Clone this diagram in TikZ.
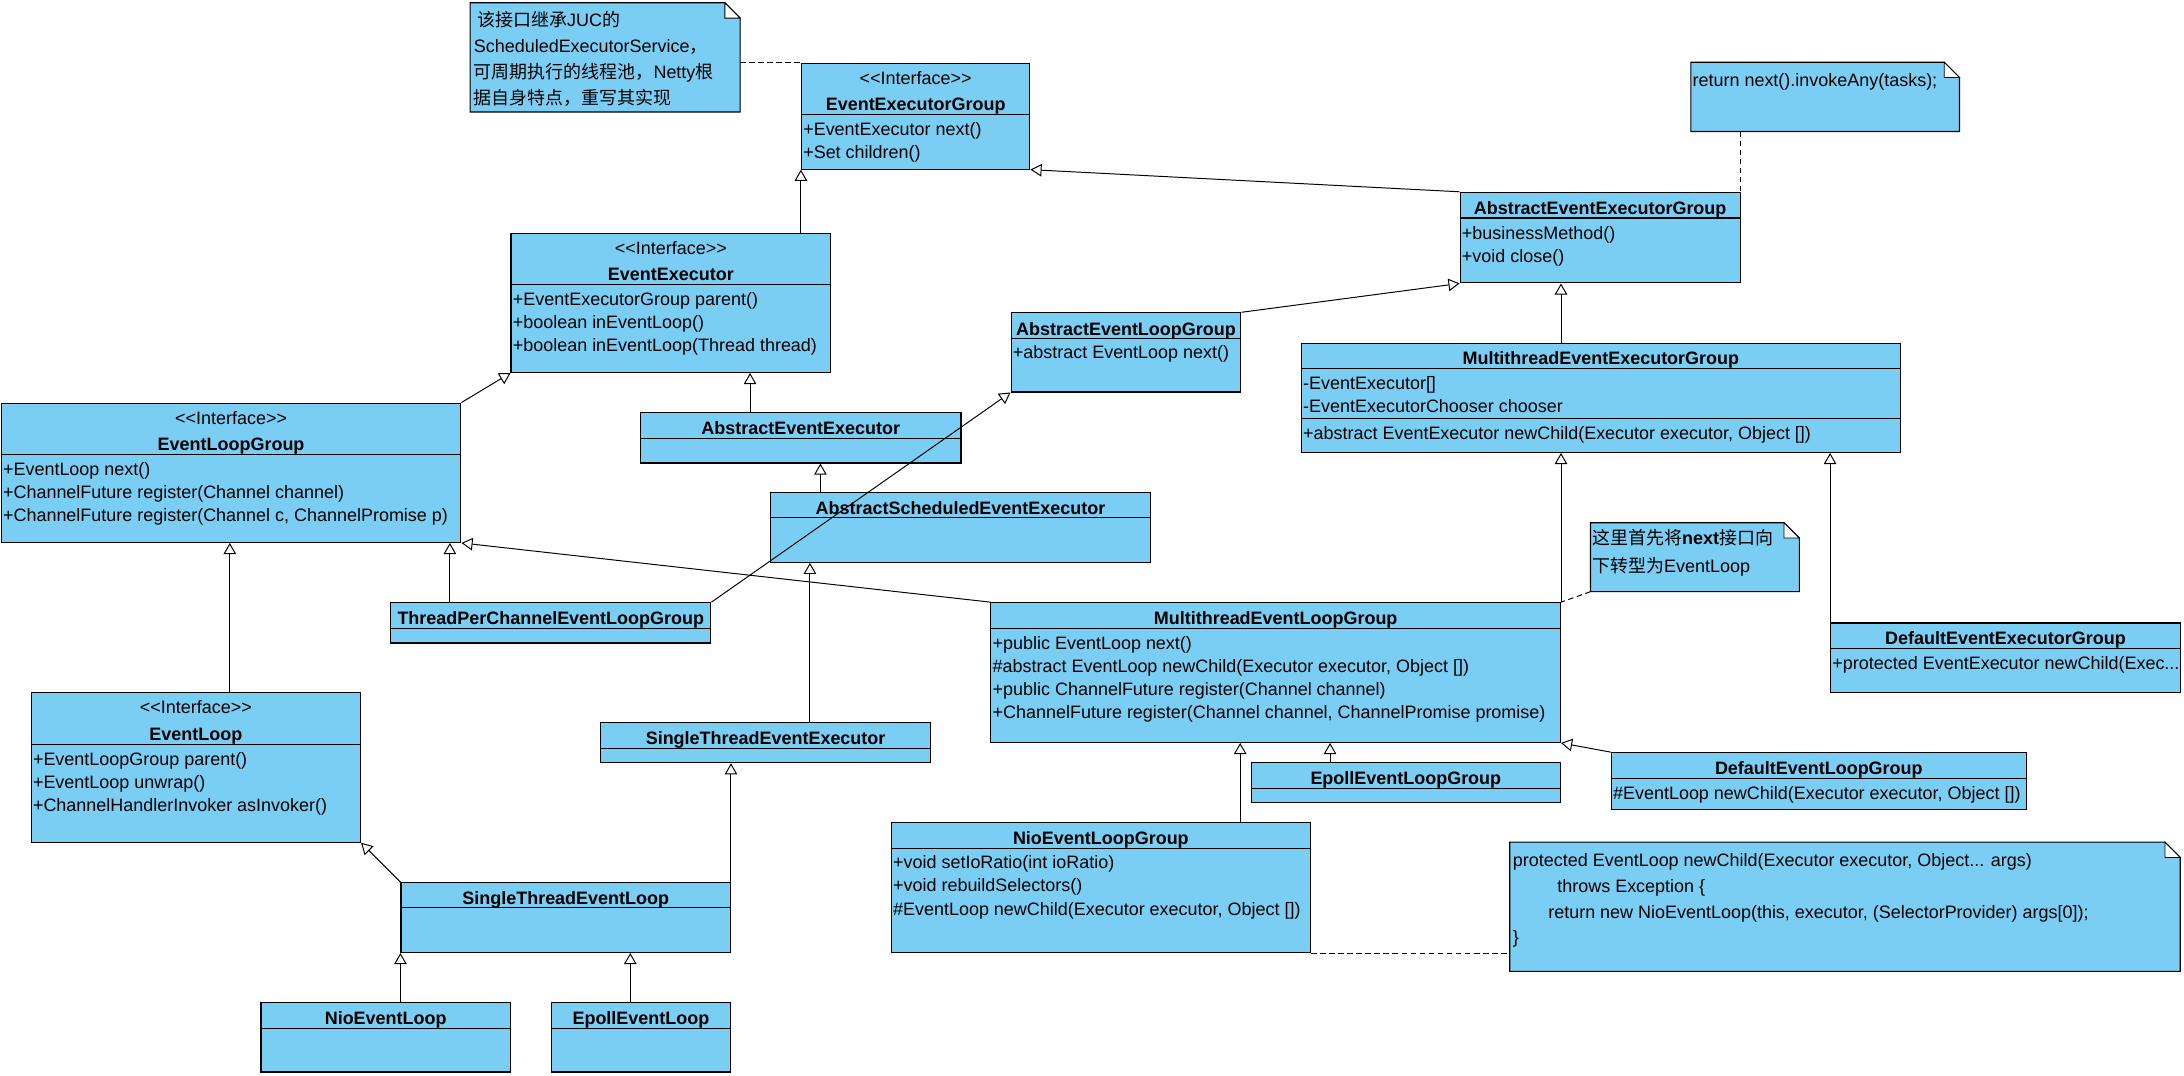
\documentclass[tikz,border=0pt]{standalone}
\usepackage{fontspec}
\setmainfont{Liberation Sans}
\newfontfamily\cjk{Noto Sans CJK SC}
\usetikzlibrary{arrows.meta}
\definecolor{umlblue}{RGB}{122,206,244}

\begin{document}
\begin{tikzpicture}[
   x=1pt,y=-1pt,
   font=\fontsize{12.9}{15.5}\selectfont,
   cls/.style={draw,line width=0.8pt,fill=umlblue,anchor=north west,inner sep=0pt},
   notebox/.style={anchor=north west,inner sep=0pt},
   notefill/.style={draw,line width=0.8pt,fill=umlblue},
   sep/.style={line width=0.8pt},
   title/.style={anchor=base,font=\fontsize{12.9}{15.5}\selectfont\bfseries},
   stereo/.style={anchor=base},
   member/.style={anchor=base west,inner sep=0pt},
   gen/.style={-{Triangle[length=8pt,width=9pt,fill=white]},line width=0.7pt},
   link/.style={dash pattern=on 4pt off 2.5pt,line width=0.7pt}]
\path[fill=white] (0,0) rectangle (1568,772.5);

% notes
\node[notebox,minimum width=193.5pt,minimum height=78pt] (N1) at (337.5,2) {};
\node[notebox,minimum width=192.5pt,minimum height=49.3pt] (N3) at (1213.9,44.7) {};
\node[notebox,minimum width=149.5pt,minimum height=49.1pt] (N2) at (1141.9,375.3) {};
\node[notebox,minimum width=481pt,minimum height=92.4pt] (N4) at (1083.9,604.6) {};
\foreach \n in {N1,N2,N3,N4}{
  \draw[notefill] (\n.north west) -- ([xshift=-11pt]\n.north east) -- ([yshift=-11pt]\n.north east)
     -- (\n.south east) -- (\n.south west) -- cycle;
  \draw[line width=0.6pt,fill=white] ([xshift=-11pt]\n.north east) -- ([xshift=-11pt,yshift=-11pt]\n.north east)
     -- ([yshift=-11pt]\n.north east) -- cycle;
}
\node[member] at (342.5,18.9) {{\cjk 该接口继承}JUC{\cjk 的}};
\node[member] at (340,37.5) {ScheduledExecutorService{\cjk ，}};
\node[member] at (340,56.5) {{\cjk 可周期执行的线程池，}Netty{\cjk 根}};
\node[member] at (340,75.1) {{\cjk 据自身特点，重写其实现}};
\node[member] at (1215,62.2) {return next().invokeAny(tasks);};
\node[member] at (1143,391) {{\cjk 这里首先将}\textbf{next}{\cjk 接口向}};
\node[member] at (1143,411.2) {{\cjk 下转型为}EventLoop};
\node[member] at (1086,621.8) {protected EventLoop newChild(Executor executor, Object... args)};
\node[member] at (1117.9,640.6) {throws Exception \{};
\node[member] at (1111.4,659.4) {return new NioEventLoop(this, executor, (SelectorProvider) args[0]);};
\node[member] at (1086,677.4) {\}};

% EventExecutorGroup
\node[cls,minimum width=164pt,minimum height=76pt] (EEG) at (575,45) {};
\draw[sep] (EEG.west |- 0,82) -- (EEG.east |- 0,82);
\node[stereo] at (EEG.north |- 0,60.6) {<\kern0pt<Interface>\kern0pt>};
\node[title] at (EEG.north |- 0,79.6) {EventExecutorGroup};
\foreach \m [count=\i from 0] in {{+EventExecutor next()},{+Set children()}}
  \node[member] at (576.5,97.6+16.5*\i) {\m};

% EventExecutor
\node[cls,minimum width=229.5pt,minimum height=100pt] (EE) at (366.5,167) {};
\draw[sep] (EE.west |- 0,204.5) -- (EE.east |- 0,204.5);
\node[stereo] at (EE.north |- 0,182.6) {<\kern0pt<Interface>\kern0pt>};
\node[title] at (EE.north |- 0,201.6) {EventExecutor};
\foreach \m [count=\i from 0] in {{+EventExecutorGroup parent()},{+boolean inEventLoop()},{+boolean inEventLoop(Thread thread)}}
  \node[member] at (368,219.2+16.5*\i) {\m};

% EventLoopGroup
\node[cls,minimum width=330pt,minimum height=100pt] (ELG) at (0.5,289) {};
\draw[sep] (ELG.west |- 0,326) -- (ELG.east |- 0,326);
\node[stereo] at (ELG.north |- 0,304.6) {<\kern0pt<Interface>\kern0pt>};
\node[title] at (ELG.north |- 0,323.6) {EventLoopGroup};
\foreach \m [count=\i from 0] in {{+EventLoop next()},{+ChannelFuture register(Channel channel)},{+ChannelFuture register(Channel c, ChannelPromise p)}}
  \node[member] at (2,341.6+16.5*\i) {\m};

% AbstractEventExecutor
\node[cls,minimum width=230pt,minimum height=36pt] (AEE) at (459.5,296) {};
\draw[sep] (AEE.west |- 0,314.7) -- (AEE.east |- 0,314.7);
\node[title] at (AEE.north |- 0,311.6) {AbstractEventExecutor};

% AbstractEventLoopGroup
\node[cls,minimum width=165pt,minimum height=56.8pt] (AELG) at (725.5,224.2) {};
\draw[sep] (AELG.west |- 0,242.8) -- (AELG.east |- 0,242.8);
\node[title] at (AELG.north |- 0,240.6) {AbstractEventLoopGroup};
\node[member] at (727,257.6) {+abstract EventLoop next()};

% AbstractScheduledEventExecutor
\node[cls,minimum width=272.4pt,minimum height=49.8pt] (ASEE) at (553,353.5) {};
\draw[sep] (ASEE.west |- 0,371.6) -- (ASEE.east |- 0,371.6);
\node[title] at (ASEE.north |- 0,369.2) {AbstractScheduledEventExecutor};

% AbstractEventExecutorGroup
\node[cls,minimum width=201pt,minimum height=65pt] (AEEG) at (1047.9,137.7) {};
\draw[sep] (AEEG.west |- 0,156.5) -- (AEEG.east |- 0,156.5);
\node[title] at (AEEG.north |- 0,153.9) {AbstractEventExecutorGroup};
\foreach \m [count=\i from 0] in {{+businessMethod()},{+void close()}}
  \node[member] at (1049.4,172.2+16.5*\i) {\m};

% MultithreadEventExecutorGroup
\node[cls,minimum width=430pt,minimum height=78.4pt] (MEEG) at (933.9,246) {};
\draw[sep] (MEEG.west |- 0,264.5) -- (MEEG.east |- 0,264.5);
\draw[sep] (MEEG.west |- 0,300.4) -- (MEEG.east |- 0,300.4);
\node[title] at (MEEG.north |- 0,261.6) {MultithreadEventExecutorGroup};
\foreach \m [count=\i from 0] in {{-EventExecutor[]},{-EventExecutorChooser chooser}}
  \node[member] at (935.4,279.6+16.5*\i) {\m};
\node[member] at (935.4,315.6) {+abstract EventExecutor newChild(Executor executor, Object [])};

% ThreadPerChannelEventLoopGroup
\node[cls,minimum width=230pt,minimum height=28.9pt] (TPCELG) at (280,432.3) {};
\draw[sep] (TPCELG.west |- 0,451) -- (TPCELG.east |- 0,451);
\node[title] at (TPCELG.north |- 0,448.2) {ThreadPerChannelEventLoopGroup};

% MultithreadEventLoopGroup
\node[cls,minimum width=408.9pt,minimum height=100.3pt] (MELG) at (711,432.3) {};
\draw[sep] (MELG.west |- 0,451) -- (MELG.east |- 0,451);
\node[title] at (MELG.north |- 0,448.2) {MultithreadEventLoopGroup};
\foreach \m [count=\i from 0] in {{+public EventLoop next()},{\#abstract EventLoop newChild(Executor executor, Object [])},{+public ChannelFuture register(Channel channel)},{+ChannelFuture register(Channel channel, ChannelPromise promise)}}
  \node[member] at (712.5,466.6+16.4*\i) {\m};

% DefaultEventExecutorGroup
\node[cls,minimum width=251pt,minimum height=49.9pt] (DEEG) at (1313.9,446.9) {};
\draw[sep] (DEEG.west |- 0,465.4) -- (DEEG.east |- 0,465.4);
\node[title] at (DEEG.north |- 0,462.6) {DefaultEventExecutorGroup};
\node[member] at (1315.4,480.9) {+protected EventExecutor newChild(Exec...};

% EventLoop
\node[cls,minimum width=236.5pt,minimum height=107.5pt] (EL) at (22,496.8) {};
\draw[sep] (EL.west |- 0,534.4) -- (EL.east |- 0,534.4);
\node[stereo] at (EL.north |- 0,512.6) {<\kern0pt<Interface>\kern0pt>};
\node[title] at (EL.north |- 0,531.6) {EventLoop};
\foreach \m [count=\i from 0] in {{+EventLoopGroup parent()},{+EventLoop unwrap()},{+ChannelHandlerInvoker asInvoker()}}
  \node[member] at (23.5,549.6+16.5*\i) {\m};

% SingleThreadEventExecutor
\node[cls,minimum width=236.5pt,minimum height=28.7pt] (STEE) at (431,518.5) {};
\draw[sep] (STEE.west |- 0,537.3) -- (STEE.east |- 0,537.3);
\node[title] at (STEE.north |- 0,534.5) {SingleThreadEventExecutor};

% EpollEventLoopGroup
\node[cls,minimum width=222pt,minimum height=28.7pt] (EpELG) at (897.9,547.2) {};
\draw[sep] (EpELG.west |- 0,566) -- (EpELG.east |- 0,566);
\node[title] at (EpELG.north |- 0,563.2) {EpollEventLoopGroup};

% DefaultEventLoopGroup
\node[cls,minimum width=298pt,minimum height=40.9pt] (DELG) at (1156.4,540) {};
\draw[sep] (DELG.west |- 0,558.8) -- (DELG.east |- 0,558.8);
\node[title] at (DELG.north |- 0,555.8) {DefaultEventLoopGroup};
\node[member] at (1157.9,573.8) {\#EventLoop newChild(Executor executor, Object [])};

% NioEventLoopGroup
\node[cls,minimum width=300.9pt,minimum height=93.4pt] (NELG) at (639.5,590) {};
\draw[sep] (NELG.west |- 0,609) -- (NELG.east |- 0,609);
\node[title] at (NELG.north |- 0,606.2) {NioEventLoopGroup};
\foreach \m [count=\i from 0] in {{+void setIoRatio(int ioRatio)},{+void rebuildSelectors()},{\#EventLoop newChild(Executor executor, Object [])}}
  \node[member] at (641,623.8+16.6*\i) {\m};

% SingleThreadEventLoop
\node[cls,minimum width=236.5pt,minimum height=50.1pt] (STEL) at (287.5,633.3) {};
\draw[sep] (STEL.west |- 0,651.8) -- (STEL.east |- 0,651.8);
\node[title] at (STEL.north |- 0,649.5) {SingleThreadEventLoop};

% NioEventLoop, EpollEventLoop
\node[cls,minimum width=179pt,minimum height=49.9pt] (NEL) at (187,719.3) {};
\draw[sep] (NEL.west |- 0,738.3) -- (NEL.east |- 0,738.3);
\node[title] at (NEL.north |- 0,735.5) {NioEventLoop};
\node[cls,minimum width=128.5pt,minimum height=49.9pt] (EpEL) at (395.5,719.3) {};
\draw[sep] (EpEL.west |- 0,738.3) -- (EpEL.east |- 0,738.3);
\node[title] at (EpEL.north |- 0,735.5) {EpollEventLoop};

% generalizations
\draw[gen] (EE.north -| EEG.south west) -- (EEG.south west);
\draw[gen] (AEEG.north west) -- (EEG.south east);
\draw[gen] (ELG.north east) -- (EE.south west);
\draw[gen] (AEE.north -| 538.5,0) -- (EE.south -| 538.5,0);
\draw[gen] (ASEE.north -| 589,0) -- (AEE.south -| 589,0);
\draw[gen] (AELG.north east) -- (AEEG.south west);
\draw[gen] (MEEG.north -| MELG.north east) -- (AEEG.south -| MELG.north east);
\draw[gen] (TPCELG.north east) -- (AELG.south west);
\draw[gen] (TPCELG.north -| 323,0) -- (ELG.south -| 323,0);
\draw[gen] (EL.north -| 165,0) -- (ELG.south -| 165,0);
\draw[gen] (STEE.north -| 581.5,0) -- (ASEE.south -| 581.5,0);
\draw[gen] (MELG.north west) -- (ELG.south east);
\draw[gen] (MELG.north east) -- (MEEG.south -| MELG.north east);
\draw[gen] (DEEG.north west) -- (MEEG.south -| DEEG.north west);
\draw[gen] (STEL.north west) -- (EL.south east);
\draw[gen] (STEL.north east) -- (STEE.south -| STEL.north east);
\draw[gen] (NEL.north -| STEL.south west) -- (STEL.south west);
\draw[gen] (EpEL.north -| 452.5,0) -- (STEL.south -| 452.5,0);
\draw[gen] (NELG.north -| 890.4,0) -- (MELG.south -| 890.4,0);
\draw[gen] (EpELG.north -| 954.9,0) -- (MELG.south -| 954.9,0);
\draw[gen] (DELG.north west) -- (MELG.south east);

% note links
\draw[link] (N1.east |- EEG.north west) -- (EEG.north west);
\draw[link] (N3.south -| AEEG.north east) -- (AEEG.north east);
\draw[link] (N2.south west) -- (MELG.north east);
\draw[link] (NELG.south east) -- (N4.west |- NELG.south east);
\end{tikzpicture}
\end{document}
